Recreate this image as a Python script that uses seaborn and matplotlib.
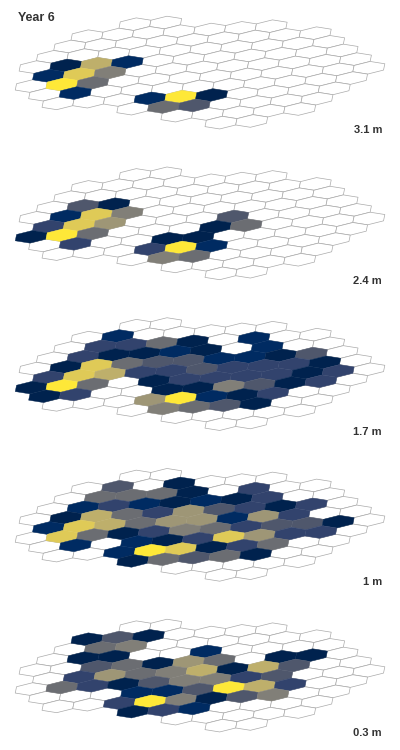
import matplotlib
matplotlib.use("Agg")
import matplotlib.pyplot as plt
import numpy as np
import seaborn as sns
from matplotlib.collections import PolyCollection

TITLE = "Year 6"
DEPTH_LABELS = ["3.1 m", "2.4 m", "1.7 m", "1 m", "0.3 m"]

# hex grid: axial row r (top row first) and first q of that row
GRID_R = [8, 7, 6, 5, 4, 3, 2, 1, 0, -1, -2, -3]
GRID_Q0 = [-6, -7, -7, -7, -7, -6, -6, -5, -4, -1, 1, 3]

# one string per grid row, '.' = empty cell, digit = value class 0..9
LAYER_31 = ["..", ".......", ".........", "..........", ".071.......", "185........",
            ".94.........", ".1.........", "...190....", ".43....", ".....", ".."]
LAYER_24 = ["..", ".......", ".........", ".30.......", ".185.......", "286...3....",
            "094...04....", ".2..00.....", "...291....", ".54....", ".....", ".."]
LAYER_17 = ["..", ".1.....", ".2240.1..", ".20010.1..", ".084331103.", "2872232220.",
            "094.0222202.", "02..005302.", "...69102..", ".5430..", ".....", ".."]
LAYER_10 = ["..", ".3.0...", ".4440.2..", ".1210102..", ".074263202.", "187466162..",
            ".8402542330.", ".1.1028622.", "..198024..", "04340..", ".....", ".."]
LAYER_03 = ["..", "030....", ".45......", ".00..1....", "..34064.00.", ".26457073..",
            ".42035523...", "...113972..", "..295035..", "021....", ".....", ".."]
LAYERS = [LAYER_31, LAYER_24, LAYER_17, LAYER_10, LAYER_03]

# scaled value (0..1) of each class
CLASS_VALUE = [0.0, 0.05, 0.19, 0.3, 0.42, 0.52, 0.64, 0.76, 0.88, 1.0]

# tilt used to fake the 3d look: shear then a small clockwise turn
ANG = np.pi / 20
SHEAR = np.array([[2.0, 0.0], [1.2, 1.0]])
ROT = np.array([[np.cos(ANG), -np.sin(ANG)], [np.sin(ANG), np.cos(ANG)]])
TILT = SHEAR @ ROT

PX = 7.44                 # pixels per data unit
X0, Y0 = 180.8, 96.7      # pixel position of cell (0, 0) of the top layer
LAYER_GAP = 150.75 / PX

sns.set_theme(style="white")
plt.rcParams["font.family"] = ["Liberation Sans", "DejaVu Sans"]
cmap = sns.color_palette("cividis", as_cmap=True)

fig = plt.figure(figsize=(4, 7.5), dpi=100)
ax = fig.add_axes([0, 0, 1, 1])
ax.axis("off")

angles = np.deg2rad(np.arange(6) * 60)
hex_shape = np.column_stack([np.cos(angles), np.sin(angles)])

for k, layer in enumerate(LAYERS):
    empty, filled, colors = [], [], []
    for r, q0, row in zip(GRID_R, GRID_Q0, layer):
        for i, ch in enumerate(row):
            q = q0 + i
            centre = np.array([1.5 * q, np.sqrt(3) * (r + q / 2)])
            poly = (hex_shape + centre) @ TILT
            poly[:, 1] -= k * LAYER_GAP
            if ch == ".":
                empty.append(poly)
            else:
                filled.append(poly)
                colors.append(cmap(CLASS_VALUE[int(ch)]))
    ax.add_collection(PolyCollection(empty, facecolors="white", edgecolors="#aaaaaa", linewidths=0.5))
    ax.add_collection(PolyCollection(filled, facecolors=colors, edgecolors=colors, linewidths=0.3))
    ax.text((382 - X0) / PX, (Y0 - 130) / PX - k * LAYER_GAP, DEPTH_LABELS[k],
            ha="right", va="center", fontsize=8, fontweight="bold", color="#333333")

ax.set_xlim(-X0 / PX, (400 - X0) / PX)
ax.set_ylim((Y0 - 750) / PX, Y0 / PX)

fig.text(18 / 400, 1 - 18 / 750, TITLE, ha="left", va="center", fontsize=9,
         fontweight="bold", color="#333333")

fig.savefig("out.png", dpi=100)
